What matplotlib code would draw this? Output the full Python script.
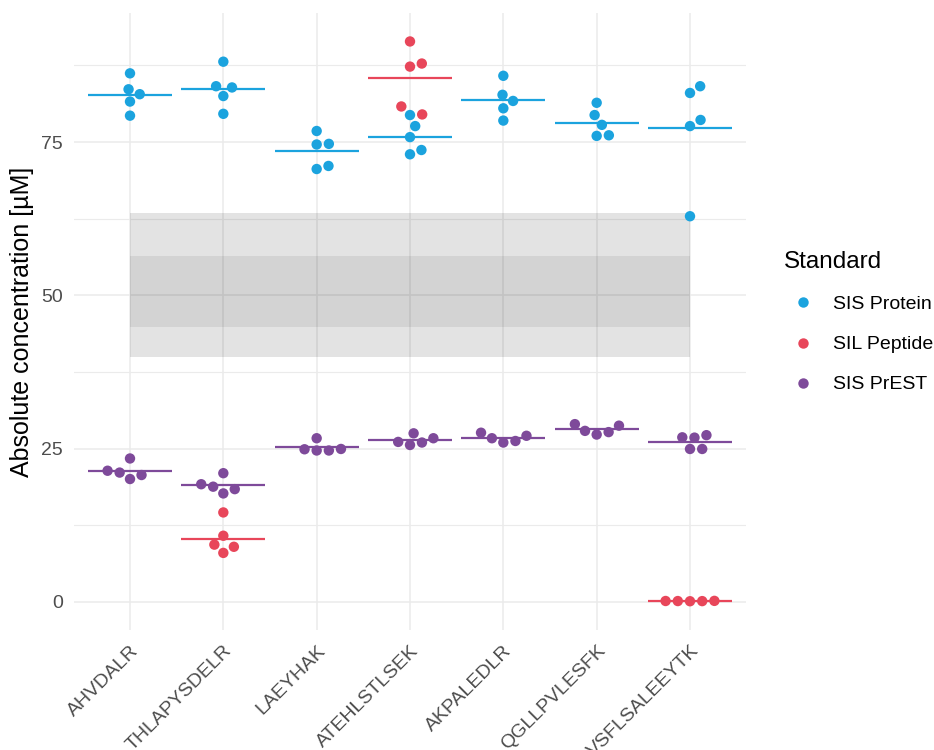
import numpy as np
import matplotlib
matplotlib.use('Agg')
from matplotlib import pyplot as plt
from matplotlib.lines import Line2D

plt.rcParams['font.family'] = ['Liberation Sans', 'DejaVu Sans']

# peptides on the x axis
peptides = ['AHVDALR', 'THLAPYSDELR', 'LAEYHAK', 'ATEHLSTLSEK',
            'AKPALEDLR', 'QGLLPVLESFK', 'VSFLSALEEYTK']

# absolute concentrations (uM), five replicates per peptide and standard
sis_protein = [
    [86.2, 83.6, 82.8, 81.6, 79.3],
    [88.1, 84.1, 83.9, 82.5, 79.6],
    [76.8, 74.6, 74.7, 70.6, 71.1],
    [79.4, 77.6, 75.8, 73.0, 73.7],
    [85.8, 82.7, 81.7, 80.5, 78.5],
    [81.4, 79.4, 77.8, 76.0, 76.1],
    [84.1, 83.0, 78.6, 77.6, 62.9],
]
sil_peptide = [
    [],
    [14.6, 10.8, 9.35, 9.0, 8.0],
    [],
    [91.4, 87.3, 87.8, 79.5, 80.8],
    [],
    [],
    [0.15, 0.12, 0.18, 0.14, 0.16],
]
sis_prest = [
    [23.4, 21.4, 21.1, 20.05, 20.7],
    [21.0, 19.2, 18.8, 17.7, 18.4],
    [26.7, 24.9, 24.7, 24.7, 24.95],
    [27.5, 26.1, 25.6, 26.0, 26.7],
    [27.6, 26.7, 26.0, 26.25, 27.1],
    [29.0, 27.9, 27.3, 27.7, 28.75],
    [26.85, 26.8, 27.2, 24.95, 24.95],
]

standards = ['SIS Protein', 'SIL Peptide', 'SIS PrEST']
series = [sis_protein, sil_peptide, sis_prest]
colors = ['#1BA3DE', '#E8465A', '#7E4A9A']

# reference ranges (outer and inner band)
band_outer = (39.9, 63.4)
band_inner = (44.8, 56.4)

fig = plt.figure(figsize=(9.34, 7.5), dpi=100)
ax = fig.add_axes([74/934, 1 - 630/750, (746 - 74)/934, (630 - 13)/750])
ax.set_xlim(0.4, 7.6)
ax.set_ylim(-4.57, 96.04)

# grid like theme_minimal
ax.set_axisbelow(True)
ax.set_yticks([0, 25, 50, 75])
ax.set_yticks([12.5, 37.5, 62.5, 87.5], minor=True)
ax.set_xticks(range(1, len(peptides) + 1))
ax.grid(which='major', color='#EBEBEB', lw=1.1)
ax.grid(which='minor', axis='y', color='#EBEBEB', lw=0.8)
for s in ax.spines.values():
    s.set_visible(False)

# shaded bands
ax.fill_between([1, 7], band_outer[0], band_outer[1], color='black', alpha=0.11, lw=0, zorder=1)
ax.fill_between([1, 7], band_inner[0], band_inner[1], color='black', alpha=0.066, lw=0, zorder=1)

# pixel scale for the swarm layout
p0 = ax.transData.transform((0, 0))
p1 = ax.transData.transform((1, 1))
sx, sy = p1[0] - p0[0], p1[1] - p0[1]
d = 12.2  # point spacing in px


def swarm(ypx):
    order = np.argsort(ypx, kind='stable')
    placed = []
    out = np.zeros(len(ypx))
    for i in order:
        y = ypx[i]
        cands = [0.0]
        for xj, yj in placed:
            dy = abs(y - yj)
            if dy < d:
                dx = np.sqrt(d * d - dy * dy)
                cands += [xj + dx, xj - dx]
        ok = [c for c in cands
              if all((c - xj) ** 2 + (y - yj) ** 2 >= d * d - 1e-6 for xj, yj in placed)]
        best = min(ok, key=abs)
        placed.append((best, y))
        out[i] = best
    return out


for k in range(len(peptides)):
    vals, cols = [], []
    for ser, c in zip(series, colors):
        vals += ser[k]
        cols += [c] * len(ser[k])
        if ser[k]:
            ax.hlines(np.mean(ser[k]), k + 1 - 0.45, k + 1 + 0.45, color=c, lw=1.6, zorder=2)
    vals = np.array(vals)
    offs = swarm(vals * sy) / sx
    ax.scatter(k + 1 + offs, vals, s=56, c=cols, lw=0, zorder=3)

ax.tick_params(which='both', length=0, labelsize=14, labelcolor='#4D4D4D')
ax.tick_params(axis='y', pad=8)
ax.tick_params(axis='x', pad=9)
ax.set_xticklabels(peptides, rotation=45, ha='right', va='top', rotation_mode='anchor')
ax.set_ylabel('Absolute concentration [µM]', fontsize=18, labelpad=5)

handles = [Line2D([], [], ls='none', marker='o', ms=7.5, mec='none', mfc=c) for c in colors]
leg = ax.legend(handles, standards, title='Standard', loc='upper left',
                bbox_to_anchor=(784/934, 1 - 251/750), bbox_transform=fig.transFigure,
                frameon=False, fontsize=14, title_fontsize=17.5, alignment='left',
                borderpad=0, borderaxespad=0, handlelength=2.0, handletextpad=0.5,
                labelspacing=1.16)

fig.savefig('out.png', dpi=100)
